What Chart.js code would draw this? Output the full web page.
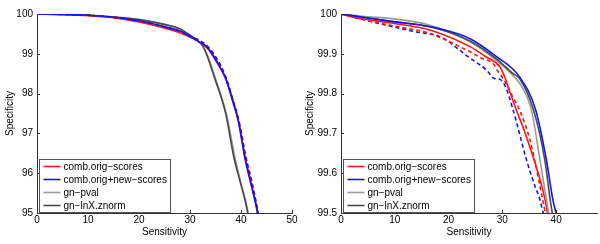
<!DOCTYPE html>
<html>
<head>
<meta charset="utf-8">
<script src="https://cdn.jsdelivr.net/npm/chart.js@4.4.0/dist/chart.umd.min.js"></script>
<style>
  html, body { margin: 0; padding: 0; background: #fff; }
  .wrap { display: flex; width: 600px; height: 244px; }
  .panel { position: relative; width: 300px; height: 244px; }
</style>
</head>
<body>
<div class="wrap">
  <div class="panel"><canvas id="left"></canvas></div>
  <div class="panel"><canvas id="right"></canvas></div>
</div>
<script>
// series names (legend) and colours
const seriesNames = ['comb.orig\u2212scores', 'comb.orig+new\u2212scores', 'gn\u2212pval', 'gn\u2212lnX.znorm'];
const seriesColors = ['#ff1414', '#1414f0', '#9a9a9a', '#4a4a4a'];

// left panel: [sensitivity, specificity]
const leftRed = [[0,100],[5,99.99],[10,99.96],[15,99.91],[20,99.8],[24,99.68],[27,99.57],[30,99.42],[32,99.28],[33.3,99.15],[35.2,98.8],[36.9,98.4],[38.5,97.8],[39.5,97.3],[40.8,96.4],[42,95.75],[43.1,95.08],[43.3,94.9]];
const leftRedDash = [[0,100],[5,99.99],[10,99.97],[15,99.91],[20,99.82],[25,99.66],[28,99.55],[30,99.43],[32,99.3],[33.5,99.15],[35.4,98.8],[37.1,98.35],[38.6,97.75],[39.8,97.2],[41,96.4],[42.3,95.7],[43.3,95.05],[43.5,94.9]];
const leftBlue = [[0,100],[5,99.99],[10,99.97],[15,99.92],[20,99.83],[25,99.68],[28,99.57],[30,99.44],[32,99.28],[33.3,99.18],[35.2,98.82],[36.9,98.42],[38.5,97.75],[39.5,97.3],[40.8,96.36],[42,95.7],[43.2,95.05],[43.4,94.9]];
const leftBlueDash = [[0,100],[5,99.99],[10,99.97],[15,99.92],[20,99.83],[25,99.68],[28,99.57],[30,99.44],[32,99.33],[33.5,99.18],[35.4,98.85],[37,98.42],[38.5,97.8],[39.6,97.3],[40.9,96.4],[42.2,95.7],[43.3,95.05],[43.5,94.9]];
const leftGray = [[0,100],[10,99.97],[20,99.86],[25,99.73],[28,99.62],[30,99.47],[31.5,99.33],[32.5,99.2],[33.3,99.0],[35,98.38],[37.2,97.45],[38.8,96.4],[40,95.75],[41.3,95.08],[41.5,94.9]];
const leftDark = [[0,100],[10,99.97],[20,99.86],[25,99.74],[28,99.63],[30,99.47],[31.5,99.33],[32.5,99.2],[33.2,99.0],[34.8,98.4],[37,97.5],[38.6,96.4],[39.8,95.8],[41.2,95.08],[41.4,94.9]];

// right panel
const rightRed = [[0,100],[3,99.99],[9,99.978],[16.5,99.96],[24,99.918],[27,99.892],[29.5,99.868],[30.5,99.84],[31.5,99.8],[32.6,99.759],[34,99.71],[35.5,99.65],[37,99.585],[38,99.53],[38.4,99.5],[38.6,99.49]];
const rightRedDash = [[0,100],[3,99.99],[9,99.972],[16.5,99.951],[24,99.905],[26,99.89],[28.3,99.875],[29,99.86],[30.5,99.83],[32,99.79],[33.2,99.759],[35,99.69],[36,99.633],[37.5,99.533],[38,99.5],[38.2,99.49]];
const rightBlue = [[0,100],[5,99.99],[9,99.982],[18.4,99.963],[24,99.938],[28.9,99.893],[33.2,99.842],[36.2,99.759],[38.2,99.633],[39.4,99.533],[40,99.5],[40.2,99.49]];
const rightBlueDash = [[0,100],[3,99.99],[9,99.97],[14,99.955],[18.4,99.943],[24,99.889],[27,99.86],[28.5,99.838],[29.5,99.836],[30.5,99.82],[32,99.759],[34.5,99.633],[36,99.57],[37,99.533],[37.6,99.5],[37.8,99.49]];
const rightGray = [[0,100],[5,99.993],[9.1,99.989],[16.5,99.972],[24,99.93],[29,99.882],[32,99.845],[33.5,99.82],[35.4,99.759],[37,99.633],[38.2,99.533],[38.6,99.5],[38.8,99.49]];
const rightDark = [[0,100],[5,99.99],[9,99.982],[16.5,99.968],[24,99.932],[29,99.886],[32,99.85],[33.2,99.838],[35.8,99.759],[37.9,99.633],[38.9,99.533],[39.3,99.5],[39.5,99.49]];

const FONT = 'Liberation Sans, Arial, Helvetica, sans-serif';

// matlab style: ticks point inwards, legend box in lower left corner
const matlabPlugin = {
  id: 'matlab',
  afterDatasetsDraw(chart) {
    const ctx = chart.ctx;
    const a = chart.chartArea;
    const xs = chart.scales.x, ys = chart.scales.y;
    ctx.save();
    ctx.strokeStyle = '#333';
    ctx.lineWidth = 1;
    ctx.beginPath();
    xs.ticks.forEach(t => {
      const px = Math.round(xs.getPixelForValue(t.value)) + 0.5;
      ctx.moveTo(px, a.bottom);
      ctx.lineTo(px, a.bottom - 3);
    });
    ys.ticks.forEach(t => {
      const py = Math.round(ys.getPixelForValue(t.value)) + 0.5;
      ctx.moveTo(a.left, py);
      ctx.lineTo(a.left + 3, py);
    });
    ctx.stroke();

    // legend
    const bx = Math.round(a.left) + 2.5, bw = 131, bh = 53;
    const by = Math.round(a.bottom) - bh - 0.5;
    ctx.fillStyle = '#fff';
    ctx.fillRect(bx, by, bw, bh);
    ctx.strokeStyle = '#555';
    ctx.strokeRect(bx, by, bw, bh);
    ctx.font = '10px ' + FONT;
    ctx.textBaseline = 'middle';
    ctx.textAlign = 'left';
    seriesNames.forEach((name, i) => {
      const ry = by + 7 + i * 13;
      ctx.strokeStyle = seriesColors[i];
      ctx.lineWidth = 1.6;
      ctx.beginPath();
      ctx.moveTo(bx + 4, ry);
      ctx.lineTo(bx + 21, ry);
      ctx.stroke();
      ctx.fillStyle = '#000';
      ctx.fillText(name, bx + 24, ry + 0.5);
    });
    ctx.restore();
  }
};

function ds(points, color, dashed) {
  return {
    data: points.map(p => ({ x: p[0], y: p[1] })),
    borderColor: color,
    borderWidth: 1.6,
    borderDash: dashed ? [4, 3] : [],
    pointRadius: 0,
    cubicInterpolationMode: 'monotone',
    fill: false
  };
}

function makeChart(id, sets, xMax, yMin, yStep, yWidth, rightPad) {
  return new Chart(document.getElementById(id), {
    type: 'line',
    data: { datasets: sets },
    options: {
      responsive: true,
      maintainAspectRatio: false,
      animation: false,
      layout: { padding: { top: 14, right: rightPad, left: 0, bottom: 0 } },
      plugins: { legend: { display: false }, tooltip: { enabled: false } },
      scales: {
        x: {
          type: 'linear', min: 0, max: xMax,
          grid: { display: false, drawTicks: false },
          border: { display: true, color: '#333', width: 1 },
          ticks: { stepSize: 10, includeBounds: false, padding: 1, color: '#000', font: { family: FONT, size: 10 } },
          title: { display: true, text: 'Sensitivity', color: '#000', padding: { top: 0, bottom: 6 }, font: { family: FONT, size: 10 } },
          afterFit: s => { s.height = 31; }
        },
        y: {
          type: 'linear', min: yMin, max: 100,
          grid: { display: false, drawTicks: false },
          border: { display: true, color: '#333', width: 1 },
          ticks: {
            stepSize: yStep, padding: 4, color: '#000', font: { family: FONT, size: 10 },
            callback: v => String(Number(v.toFixed(1)))
          },
          title: { display: true, text: 'Specificity', color: '#000', padding: { top: 4, bottom: 0 }, font: { family: FONT, size: 10 } },
          afterFit: s => { s.width = yWidth; }
        }
      }
    },
    plugins: [matlabPlugin]
  });
}

makeChart('left', [
  ds(leftBlueDash, seriesColors[1], true),
  ds(leftBlue, seriesColors[1], false),
  ds(leftRedDash, seriesColors[0], true),
  ds(leftRed, seriesColors[0], false),
  ds(leftDark, seriesColors[3], false),
  ds(leftGray, seriesColors[2], false)
], 50, 95, 1, 37, 8);

makeChart('right', [
  ds(rightBlue, seriesColors[1], false),
  ds(rightDark, seriesColors[3], false),
  ds(rightGray, seriesColors[2], false),
  ds(rightRed, seriesColors[0], false),
  ds(rightRedDash, seriesColors[0], true),
  ds(rightBlueDash, seriesColors[1], true)
], 47.6, 99.5, 0.1, 41, 3);
</script>
</body>
</html>
